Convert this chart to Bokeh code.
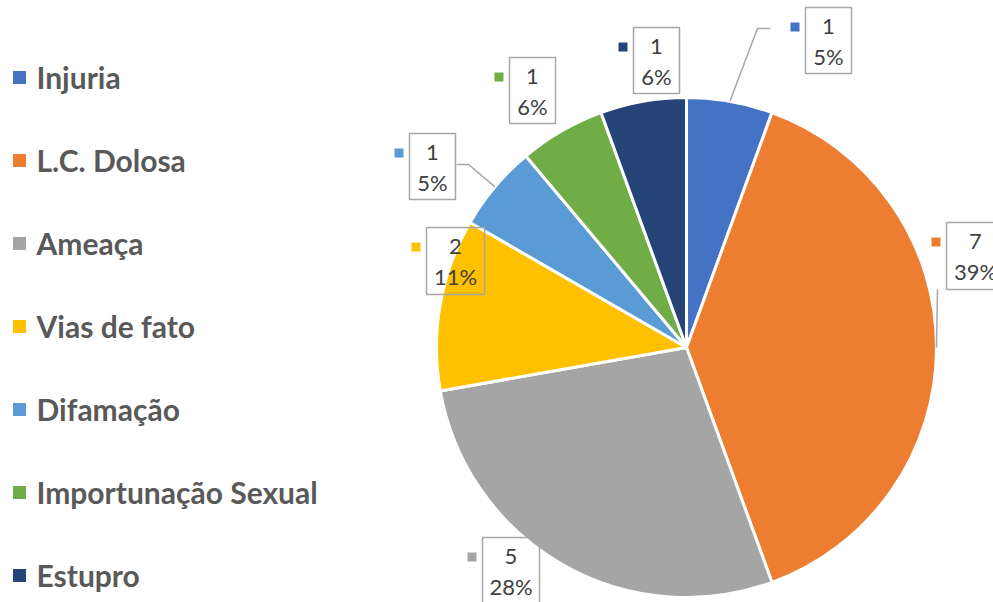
import math
from bokeh.plotting import figure
from bokeh.models import Range1d, ColumnDataSource
from bokeh.core.properties import value
from bokeh.embed import file_html
from bokeh.resources import INLINE

# ---- data ----
categories = ["Injuria", "L.C. Dolosa", "Ameaça", "Vias de fato", "Difamação",
              "Importunação Sexual", "Estupro"]
counts = [1, 7, 5, 2, 1, 1, 1]
pct_labels = ["5%", "39%", "28%", "11%", "5%", "6%", "6%"]
colors = ["#4472C4", "#ED7D31", "#A5A5A5", "#FFC000", "#5B9BD5", "#70AD47", "#264478"]

# ---- layout (screen px of the reference, y downwards) ----
W, H = 993, 602
CX, CY, R = 686, 347, 250
# label boxes: left, top, width, height
label_boxes = [(805, 7, 46, 66), (946, 222, 58, 67), (482, 537, 57, 66),
               (426, 227, 58, 67), (409, 133, 46, 66), (509, 57, 46, 66),
               (633, 27, 46, 66)]
# leader line elbows
leaders = {0: [(757, 28), (770, 28)], 1: [(937, 289)], 4: [(468, 164), (456, 164)]}
legend_x0, legend_y0, legend_dy = 19, 77, 83


def Y(y):
    return H - y


p = figure(width=W, height=H, output_backend="svg", toolbar_location=None,
           x_range=Range1d(0, W), y_range=Range1d(0, H), min_border=0)
p.axis.visible = False
p.grid.visible = False
p.outline_line_color = None
p.background_fill_color = "white"
p.border_fill_color = "white"

total = sum(counts)
starts, ends, mids = [], [], []
cum = 0
for c in counts:
    a0 = math.pi / 2 - 2 * math.pi * cum / total
    cum += c
    a1 = math.pi / 2 - 2 * math.pi * cum / total
    starts.append(a0)
    ends.append(a1)
    mids.append((a0 + a1) / 2)

src = ColumnDataSource(dict(start=starts, end=ends, color=colors))
p.wedge(x=CX, y=Y(CY), radius=R, start_angle="start", end_angle="end",
        direction="clock", fill_color="color", line_color="white", line_width=3,
        source=src)

# leader lines
for i, pts in leaders.items():
    ax = CX + R * math.cos(mids[i])
    ay = Y(CY) + R * math.sin(mids[i])
    xs = [ax] + [pt[0] for pt in pts]
    ys = [ay] + [Y(pt[1]) for pt in pts]
    p.line(xs, ys, line_color="#A6A6A6", line_width=1.5)

# data labels
for i, (l, t, w, h) in enumerate(label_boxes):
    cxb = l + w / 2
    p.rect(x=cxb, y=Y(t + h / 2), width=w, height=h, fill_alpha=0,
           line_color="#A6A6A6", line_width=1.5)
    p.rect(x=l - 10.5, y=Y(t + 19.5), width=9, height=9, fill_color=colors[i],
           line_color=None)
    p.text(x=[cxb], y=[Y(t + 19)], text=[str(counts[i])], text_font=value("Lato"),
           text_font_size=value("22px"), text_color="#404040", text_align="center",
           text_baseline="middle")
    p.text(x=[cxb], y=[Y(t + 49)], text=[pct_labels[i]], text_font=value("Lato"),
           text_font_size=value("22px"), text_color="#404040", text_align="center",
           text_baseline="middle")

# legend
for i, cat in enumerate(categories):
    yy = legend_y0 + i * legend_dy
    p.rect(x=legend_x0, y=Y(yy), width=13, height=13, fill_color=colors[i], line_color=None)
    p.text(x=[36], y=[Y(yy - 1)], text=[cat], text_font=value("Lato"),
           text_font_size=value("30px"), text_font_style="bold", text_color="#595959",
           text_align="left", text_baseline="middle")

open("out.html", "w").write(file_html(p, INLINE))
